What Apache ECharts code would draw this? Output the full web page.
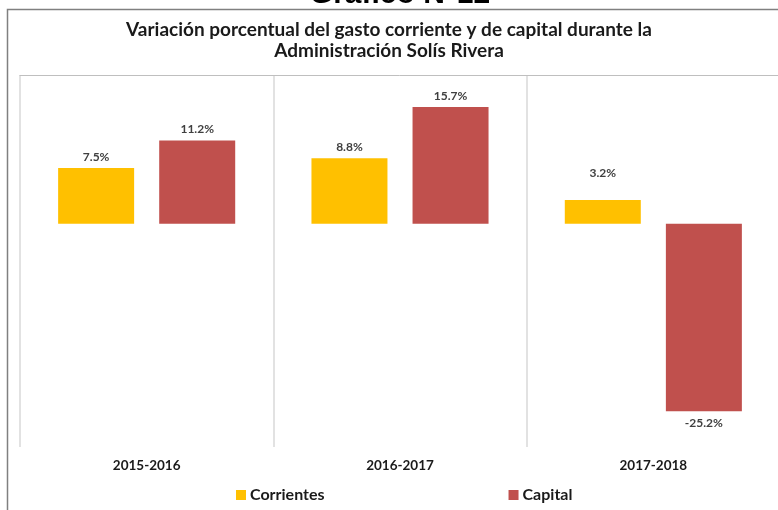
<!DOCTYPE html>
<html>
<head>
<meta charset="utf-8">
<script src="https://cdn.jsdelivr.net/npm/echarts@6/dist/echarts.min.js"></script>
<style>
  html, body { margin: 0; padding: 0; background: #fff; }
  #chart { width: 778px; height: 510px; }
</style>
</head>
<body>
<div id="chart"></div>
<script>
// datos del gráfico
const periodos = ['2015-2016', '2016-2017', '2017-2018'];
const corrientes = [7.5, 8.8, 3.2];
const capital = [11.2, 15.7, -25.2];

const FONT = 'Lato, "Open Sans", sans-serif';
const COL = { corr: '#FFC000', cap: '#C0504D', grid: '#d9d9d9', zero: '#bfbfbf', lbl: '#404040' };

const chart = echarts.init(document.getElementById('chart'));

const pct = (p) => p.value.toFixed(1) + '%';

chart.setOption({
  animation: false,
  textStyle: { fontFamily: FONT },
  title: {
    text: 'Variación porcentual del gasto corriente y de capital durante la\nAdministración Solís Rivera',
    left: 'center', top: 14,
    textStyle: { fontFamily: FONT, fontSize: 19, fontWeight: 'bold', color: '#1a1a1a', lineHeight: 21 },
  },
  graphic: [
    { type: 'text', x: 400, y: -20, z: 10, style: { text: 'Gráfico N°12', align: 'center', verticalAlign: 'top',
      font: 'bold 30px "Liberation Sans", Arial, sans-serif', fill: '#000' } },
    { type: 'polyline', shape: { points: [[7.5, 512], [7.5, 9.5], [780, 9.5]] },
      style: { stroke: '#808080', lineWidth: 1.5, fill: null } },
  ],
  legend: {
    left: 231, top: 482, itemWidth: 10, itemHeight: 10, itemGap: 184,
    icon: 'rect',
    textStyle: { fontFamily: FONT, fontSize: 16, fontWeight: 'bold', color: '#1a1a1a', padding: [0, 0, 0, -1] },
    data: ['Corrientes', 'Capital'],
  },
  grid: { left: 20, top: 75, width: 760, bottom: 63, outerBoundsMode: 'none' },
  xAxis: [
    {
      type: 'category', data: periodos, position: 'bottom',
      axisLine: { show: false }, axisTick: { show: false },
      axisLabel: { fontFamily: FONT, fontSize: 13.5, fontWeight: 'bold', color: '#1a1a1a', margin: 12 },
      splitLine: { show: true, showMaxLine: false, lineStyle: { color: COL.grid, width: 1.5 } },
    },
    {
      type: 'category', data: periodos, position: 'top',
      axisLine: { show: true, onZero: true, lineStyle: { color: COL.zero, width: 1 } },
      axisTick: { show: false }, axisLabel: { show: false }, splitLine: { show: false },
    },
  ],
  yAxis: {
    type: 'value', min: -30, max: 20, interval: 10,
    axisLine: { show: false }, axisTick: { show: false }, axisLabel: { show: false },
    splitLine: { show: false },
  },
  series: [
    {
      name: 'Corrientes', type: 'bar', xAxisIndex: 0, barWidth: '30%', barGap: '33%',
      itemStyle: { color: COL.corr },
      label: { show: true, position: 'top', distance: 5, formatter: pct,
        fontFamily: FONT, fontSize: 12, fontWeight: 'bold', color: COL.lbl },
      data: corrientes.map((v, i) => (i === 2 ? { value: v, label: { distance: 21 } } : v)),
    },
    {
      name: 'Capital', type: 'bar', xAxisIndex: 0, barWidth: '30%', barGap: '33%',
      itemStyle: { color: COL.cap },
      label: { show: true, position: 'top', distance: 5, formatter: pct,
        fontFamily: FONT, fontSize: 12, fontWeight: 'bold', color: COL.lbl },
      data: capital.map((v) => (v < 0 ? { value: v, label: { position: 'bottom', distance: 6 } } : v)),
    },
  ],
});
</script>
</body>
</html>
